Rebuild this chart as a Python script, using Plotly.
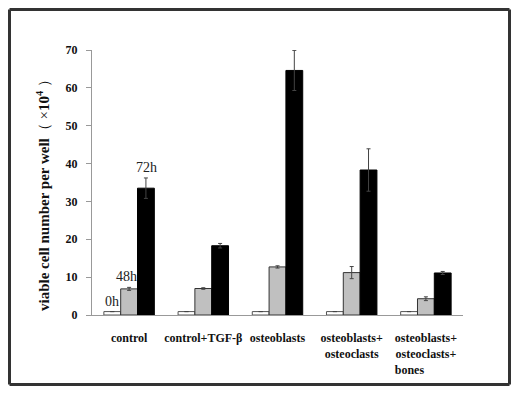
import plotly.graph_objects as go

categories = ["control", "control+TGF-β", "osteoblasts",
              "osteoblasts+<br>osteoclasts", "osteoblasts+<br>osteoclasts+<br>bones" + "\u00a0" * 11]
h0 = [0.9, 0.9, 0.9, 0.9, 0.9]
h0_err = [0, 0, 0, 0, 0]
h48 = [6.9, 7.0, 12.7, 11.2, 4.3]
h48_err = [0.4, 0.2, 0.3, 1.6, 0.5]
h72 = [33.5, 18.3, 64.6, 38.3, 11.1]
h72_err = [2.7, 0.6, 5.3, 5.6, 0.4]
series_names = ["0h", "48h", "72h"]
y_ticks = [0, 10, 20, 30, 40, 50, 60, 70]
y_title = "<b>viable cell number per well</b>（ ×<b>10<sup>4</sup></b> ）"

serif = "Liberation Serif, Times New Roman, serif"
x = list(range(len(categories)))

fig = go.Figure()
specs = [(h0, h0_err, "white", "#555"), (h48, h48_err, "#c0c0c0", "#333"), (h72, h72_err, "black", "black")]
for name, (vals, errs, fill, line) in zip(series_names, specs):
    fig.add_trace(go.Bar(
        x=x, y=vals, name=name,
        marker=dict(color=fill, line=dict(color=line, width=1)),
        error_y=dict(type="data", array=errs, visible=True, color="#444", thickness=1, width=2),
    ))

# series labels over the control group
fig.add_annotation(x=0, y=0.9, text="0h", showarrow=False, xshift=-17, yanchor="bottom", yshift=1,
                   font=dict(family=serif, size=14, color="#222"))
fig.add_annotation(x=0, y=7.2, text="48h", showarrow=False, xshift=-3, yanchor="bottom", yshift=2,
                   font=dict(family=serif, size=14, color="#222"))
fig.add_annotation(x=0, y=36.2, text="72h", showarrow=False, xshift=17, yanchor="bottom", yshift=1,
                   font=dict(family=serif, size=14, color="#222"))

# outer frame (paper coords; plot area is 371 x 265 px at (84, 42) in figure px)
W, H = 371.0, 265.0
def px(v):
    return (v - 84) / W
def py(v):
    return (307 - v) / H
fx0, fx1 = px(1.5), px(501.5)
fy0, fy1 = py(376.5), py(1.5)
for (a, b, c, d) in [(fx0, fy0, fx1, fy0), (fx0, fy1, fx1, fy1), (fx0, fy0, fx0, fy1), (fx1, fy0, fx1, fy1)]:
    fig.add_shape(type="line", xref="paper", yref="paper", x0=a, y0=b, x1=c, y1=d,
                  line=dict(color="#333", width=3))

# y-axis title
fig.add_annotation(xref="paper", yref="paper", x=px(35), y=py(184), text=y_title, textangle=-90,
                   showarrow=False, xanchor="center", yanchor="middle",
                   font=dict(family=serif, size=15, color="#111"))

fig.update_layout(
    width=520, height=394, autosize=False,
    margin=dict(l=84, r=65, t=42, b=87, autoexpand=False),
    paper_bgcolor="white", plot_bgcolor="white",
    barmode="group", bargap=0.32, bargroupgap=0,
    showlegend=False,
    font=dict(family=serif, color="#111"),
)
fig.update_xaxes(
    tickmode="array", tickvals=x, ticktext=["<b>%s</b>" % c for c in categories],
    range=[-0.5, 4.5], showline=True, linecolor="#999", linewidth=1, automargin=False,
    ticks="", ticklabelstandoff=12, tickfont=dict(family=serif, size=12, color="#111"),
    showgrid=False, zeroline=False,
)
fig.update_yaxes(
    range=[0, 70], tickvals=y_ticks, ticktext=["<b>%d</b>" % v for v in y_ticks], automargin=False,
    showline=True, linecolor="#999", linewidth=1, ticks="outside", ticklen=5, tickcolor="#999",
    tickfont=dict(family=serif, size=12, color="#111"), ticklabelstandoff=6,
    showgrid=False, zeroline=False,
)

fig.write_html("out.html")
